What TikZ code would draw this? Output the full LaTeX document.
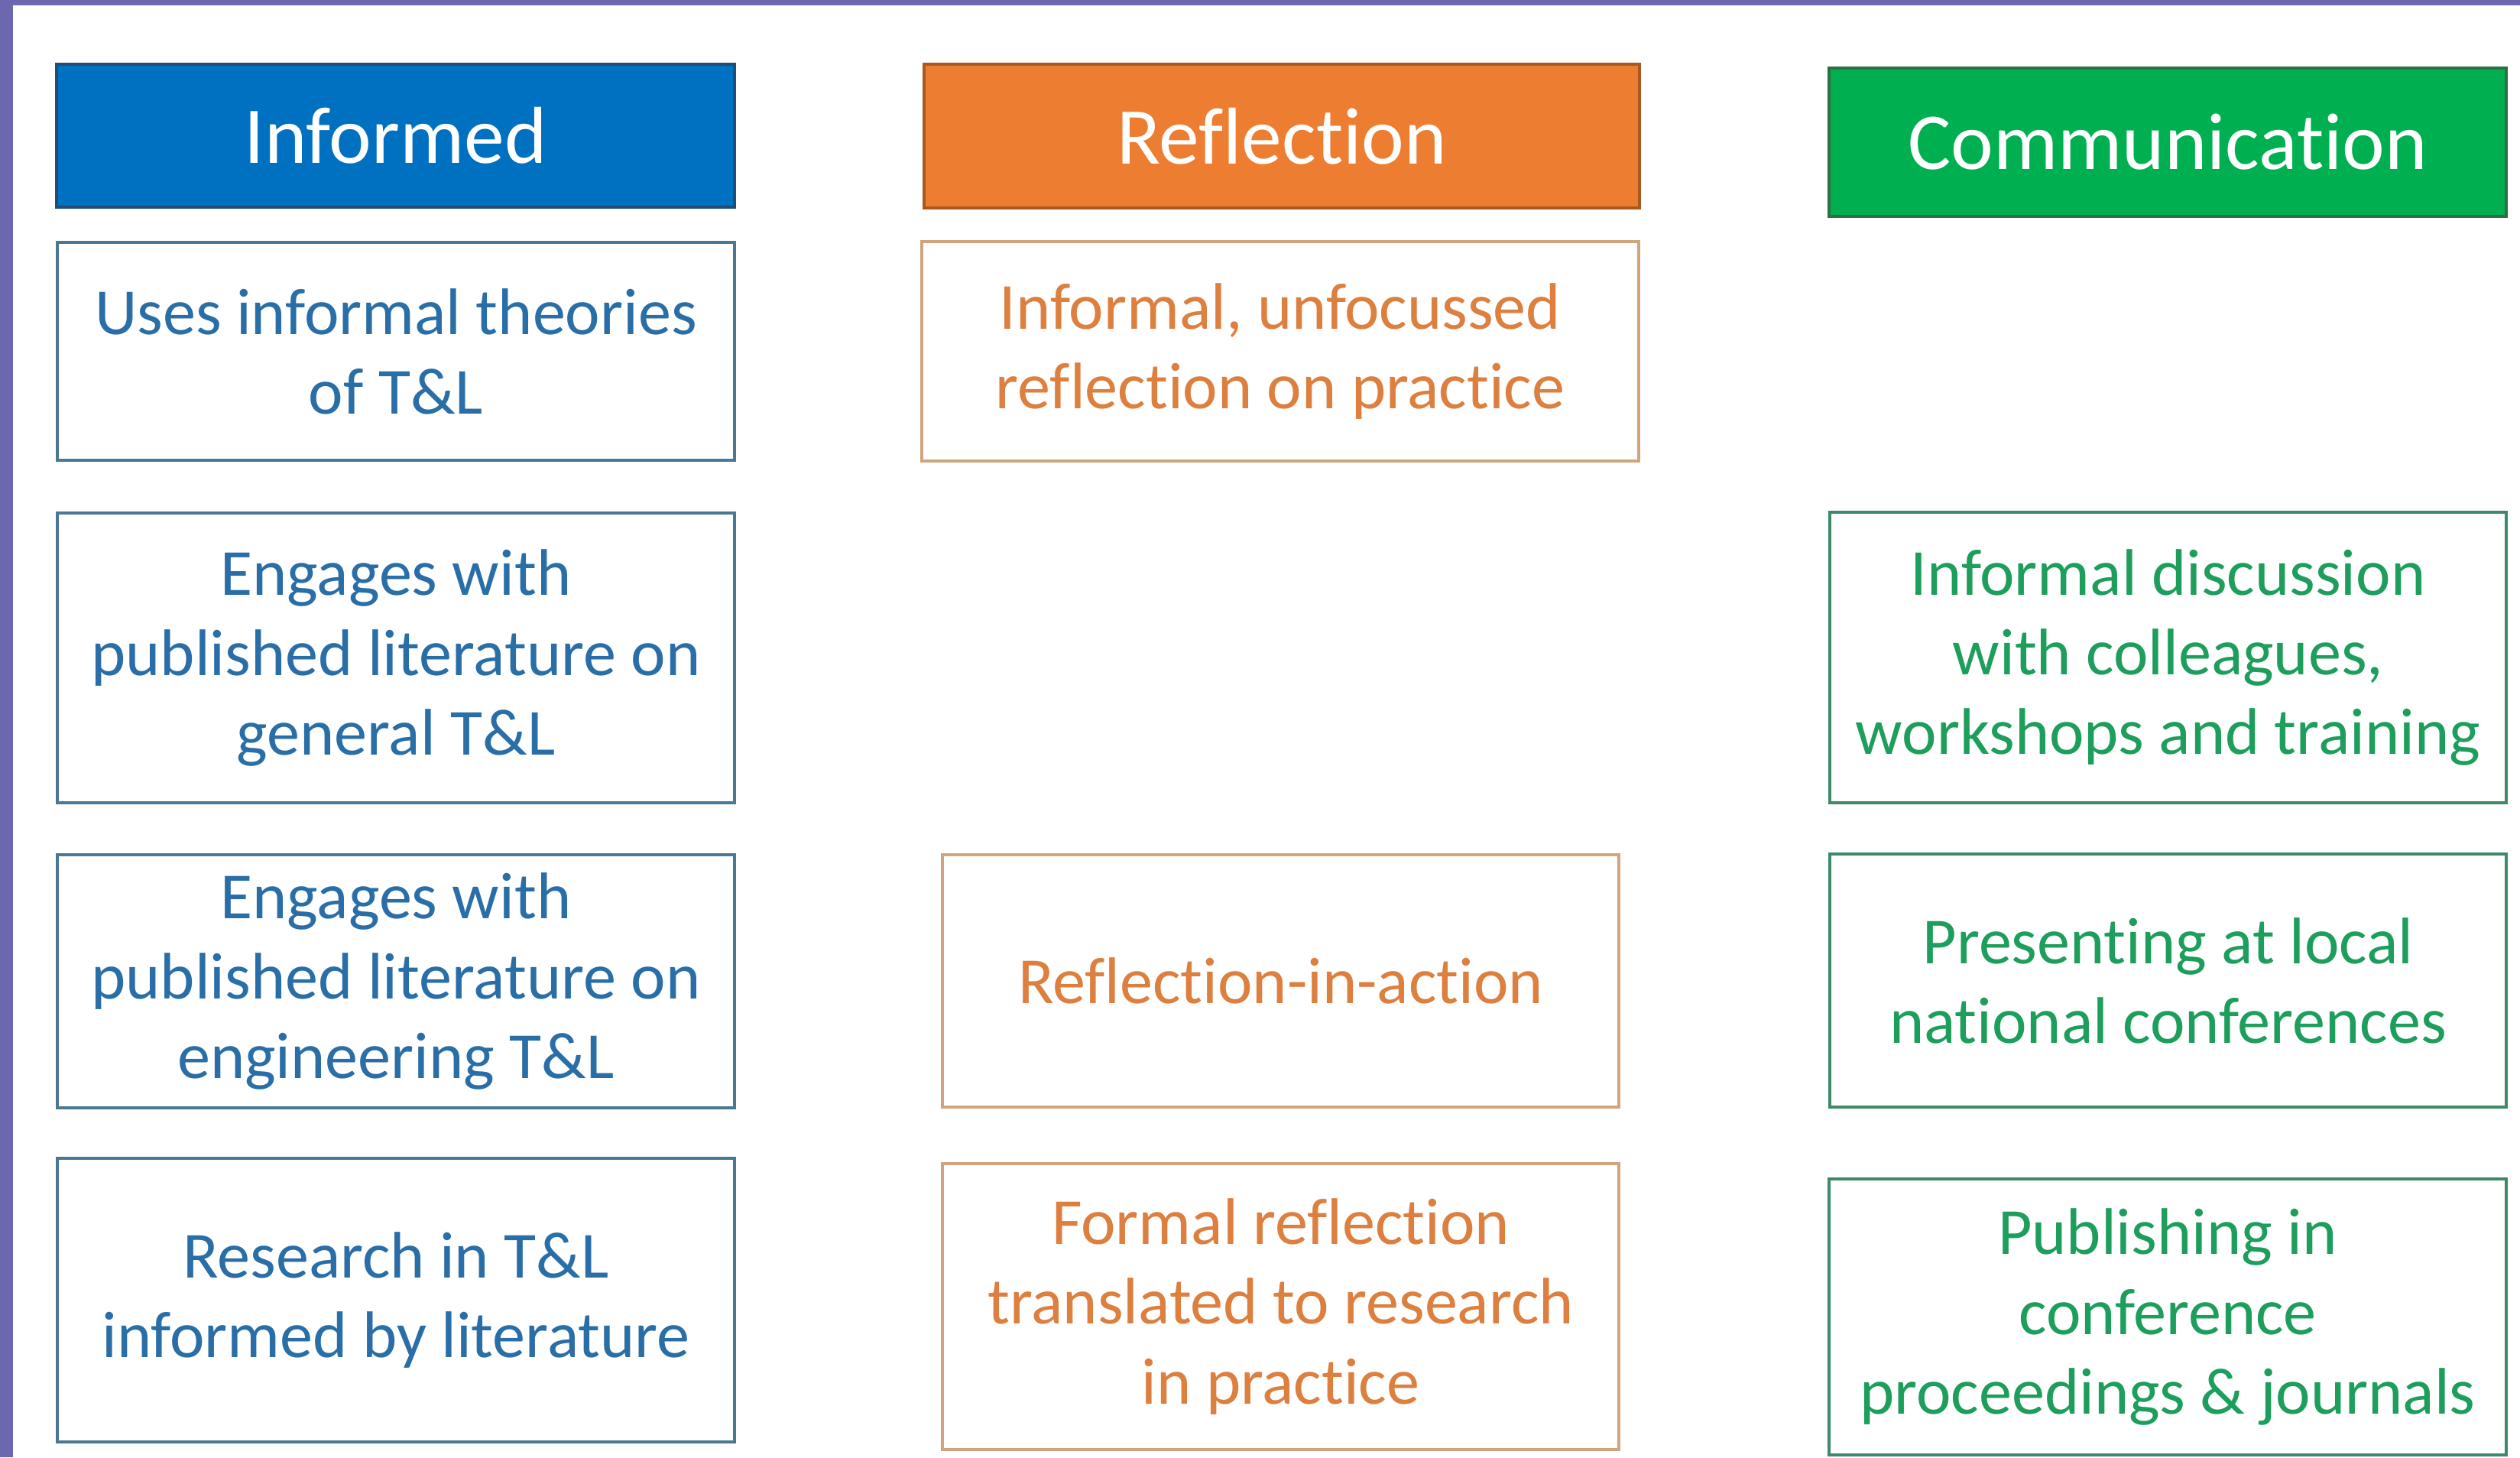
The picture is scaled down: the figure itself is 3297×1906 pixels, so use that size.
\documentclass[tikz,border=0pt]{standalone}
\usepackage{fontspec}
\setmainfont[Ligatures=NoCommon]{Carlito}
\definecolor{frame}{HTML}{6C68B0}
\definecolor{hblue}{HTML}{0070C0}
\definecolor{hblueb}{HTML}{1F4E79}
\definecolor{horange}{HTML}{ED7D31}
\definecolor{horangeb}{HTML}{A9581F}
\definecolor{hgreen}{HTML}{00B050}
\definecolor{hgreenb}{HTML}{2E7043}
\definecolor{tblue}{HTML}{2A6EA8}
\definecolor{bblue}{HTML}{4A7893}
\definecolor{torange}{HTML}{DC7F3F}
\definecolor{borange}{HTML}{D0A57E}
\definecolor{tgreen}{HTML}{1E9E5C}
\definecolor{bgreen}{HTML}{3E8A68}
\tikzset{
  sz/.style 2 args={minimum width=#1*0.01cm, minimum height=#2*0.01cm},
  basebox/.style={rectangle, inner sep=0pt, align=center, line width=1pt},
  header/.style={basebox, text=white, font=\fontsize{30}{36}\selectfont},
  hdrblue/.style={header, fill=hblue, draw=hblueb},
  hdrorange/.style={header, fill=horange, draw=horangeb},
  hdrgreen/.style={header, fill=hgreen, draw=hgreenb},
  body/.style={basebox, fill=white, font=\fontsize{24.5}{29.6}\selectfont},
  bluebox/.style={body, draw=bblue, text=tblue},
  orangebox/.style={body, draw=borange, text=torange},
  greenbox/.style={body, draw=bgreen, text=tgreen},
}
\begin{document}
\begin{tikzpicture}[x=0.01cm, y=-0.01cm]
\useasboundingbox (0,0) rectangle (3297,1906);
\fill[white] (0,0) rectangle (3297,1906);
\fill[frame] (0,0) rectangle (3297,7);
\fill[frame] (0,0) rectangle (17,1906);

% headers
\node[hdrblue, sz={887}{187}] (hinf) at (517.5,177.5) {Informed};
\node[hdrorange, sz={936}{188}] (href) at (1677,178) {Reflection};
\node[hdrgreen, sz={886}{194}] (hcom) at (2836,186) {Communication};

% Informed column
\node[bluebox, sz={886}{285}] (inf1) at (518,459.5) {Uses informal theories\\of T\&L};
\node[bluebox, sz={886}{379}] (inf2) at (518,860.5) {Engages with\\published literature on\\general T\&L};
\node[bluebox, sz={886}{331}] (inf3) at (518,1283.5) {Engages with\\published literature on\\engineering T\&L};
\node[bluebox, sz={886}{371}] (inf4) at (518,1700.5) {Research in T\&L\\informed by literature};

% Reflection column
\node[orangebox, sz={938}{287}] (ref1) at (1675,459.5) {Informal, unfocussed\\reflection on practice};
\node[orangebox, sz={885}{330}] (ref2) at (1675.5,1283) {Reflection-in-action};
\node[orangebox, sz={885}{374}] (ref3) at (1675.5,1709) {Formal reflection\\translated to research\\in practice};

% Communication column
\node[greenbox, sz={885}{380}] (com1) at (2836.5,860) {Informal discussion\\with colleagues,\\workshops and training};
\node[greenbox, sz={885}{331}] (com2) at (2836.5,1282.5) {Presenting at local\\national conferences};
\node[greenbox, sz={886}{361}] (com3) at (2836,1722.5) {Publishing in\\conference\\proceedings \& journals};
\end{tikzpicture}
\end{document}
